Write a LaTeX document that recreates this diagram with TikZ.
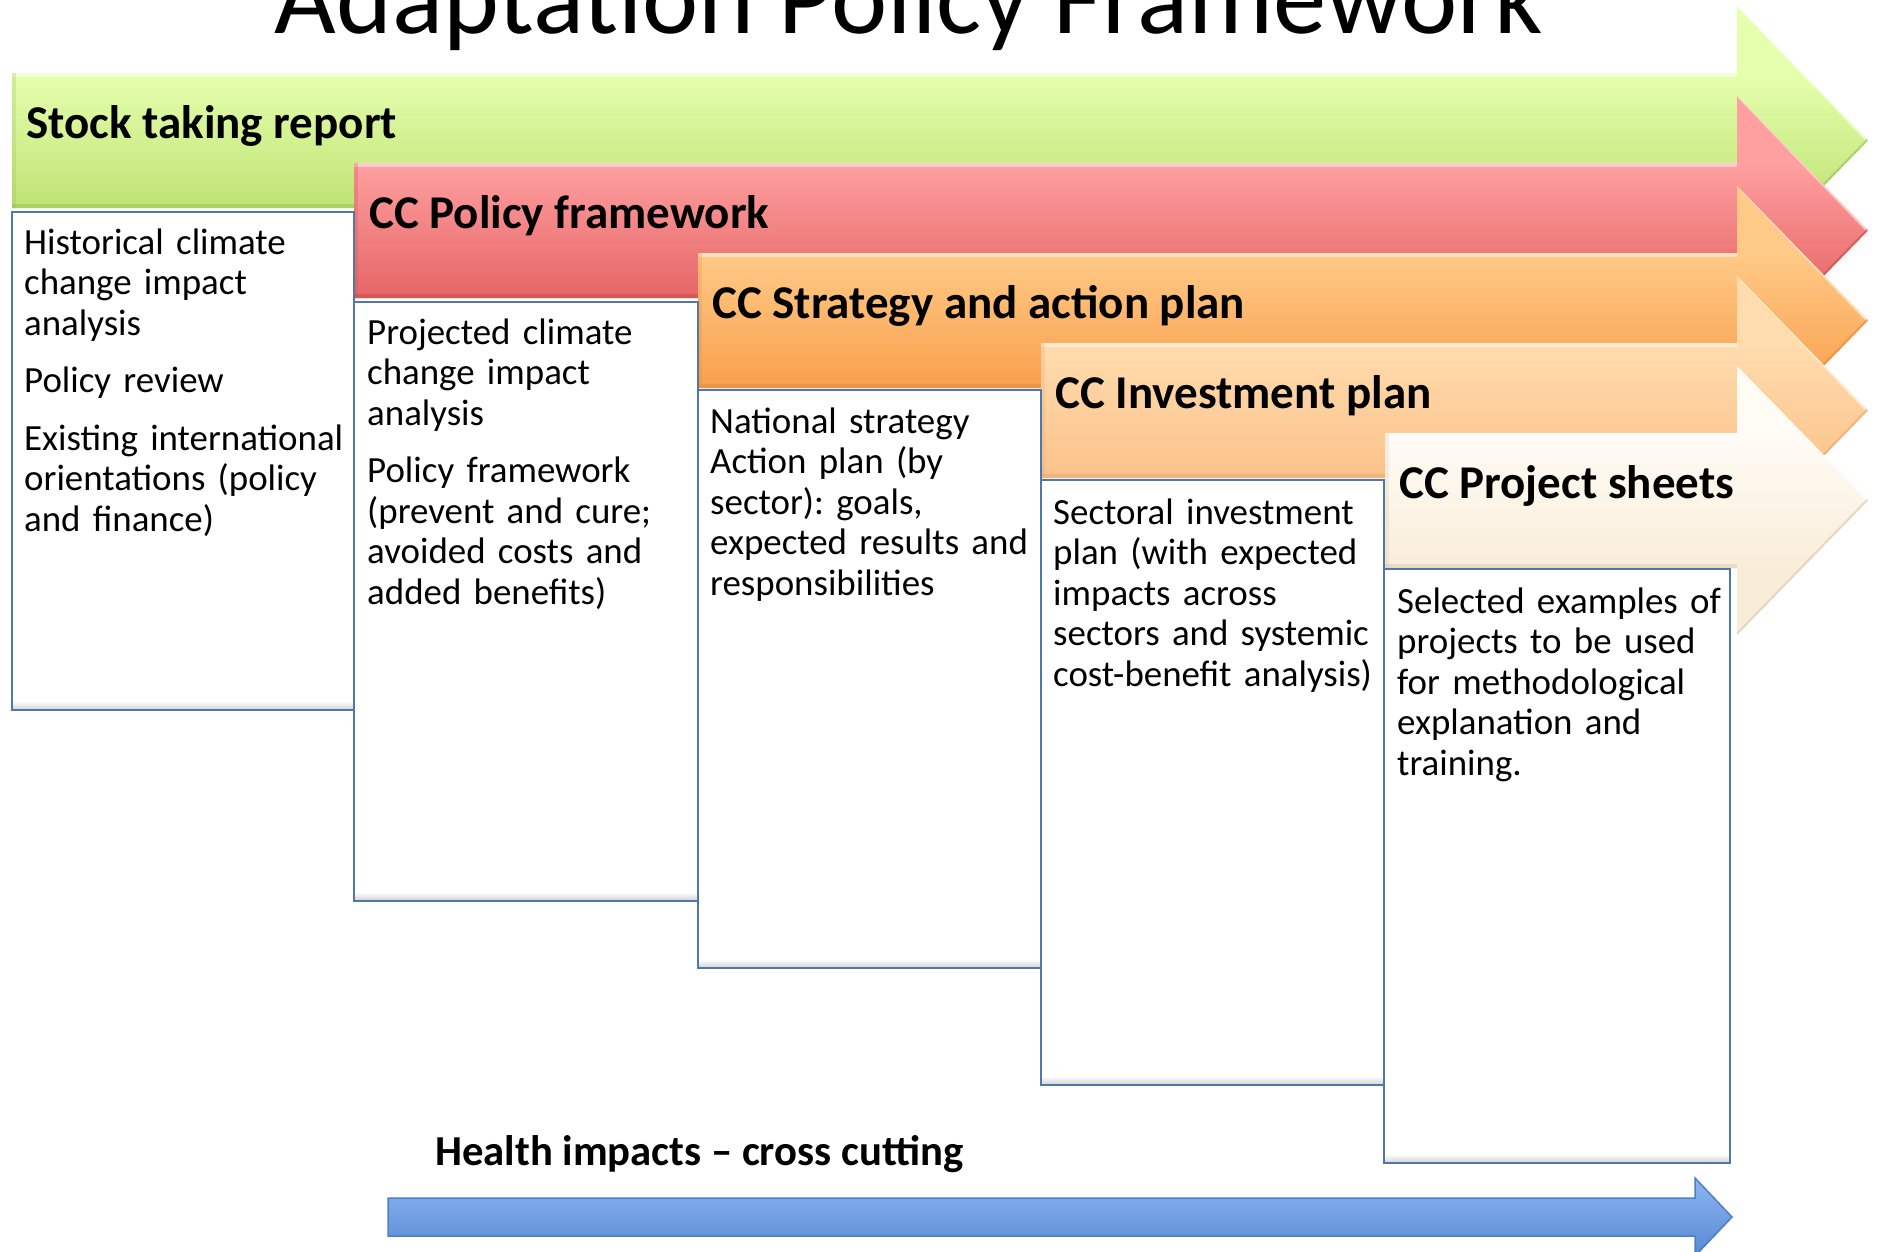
\documentclass[tikz,border=0pt]{standalone}
\usepackage{fontspec}
\setmainfont{Carlito}
\frenchspacing
\definecolor{gTop}{HTML}{E6FFAE}
\definecolor{gMid}{HTML}{D8F98F}
\definecolor{gBot}{HTML}{BFE374}
\definecolor{gEdge}{HTML}{9BBB59}
\definecolor{rTop}{HTML}{FFA0A0}
\definecolor{rMid}{HTML}{FC8B8B}
\definecolor{rBot}{HTML}{E66566}
\definecolor{rEdge}{HTML}{C0504D}
\definecolor{oTop}{HTML}{FFCA88}
\definecolor{oMid}{HTML}{FDB66C}
\definecolor{oBot}{HTML}{F9A04C}
\definecolor{oEdge}{HTML}{E08A3C}
\definecolor{lTop}{HTML}{FFDCAE}
\definecolor{lMid}{HTML}{FECD9A}
\definecolor{lBot}{HTML}{FBC28A}
\definecolor{lEdge}{HTML}{E3A772}
\definecolor{cTop}{HTML}{FFFCF6}
\definecolor{cMid}{HTML}{FEF6E9}
\definecolor{cBot}{HTML}{F9EDD9}
\definecolor{cEdge}{HTML}{D9C7AE}
\definecolor{boxLine}{HTML}{4F77AC}
\definecolor{bTop}{HTML}{8DB5F3}
\definecolor{bBot}{HTML}{5689D3}
\definecolor{bEdge}{HTML}{4F7FC2}
% #1 x0, #2 top y, #3 top colour, #4 middle colour, #5 bottom colour, #6 edge colour
\newcommand\ccbar[6]{%
  \begin{scope}
    \clip (#1,#2) -- (1737,#2) -- (1737,#2-67) -- (1868,#2+67.5) -- (1737,#2+202) -- (1737,#2+135) -- (#1,#2+135) -- cycle;
    \fill[#3] (#1,#2-70) rectangle (1870,#2+1);
    \fill[#5] (#1,#2+134) rectangle (1870,#2+206);
    \shade[top color=#3, middle color=#4, bottom color=#5] (#1,#2) rectangle (1870,#2+135);
    \fill[white, opacity=0.45] (#1,#2) rectangle (1737,#2+4);
    \fill[#6, opacity=0.5] (#1,#2+131) rectangle (1737,#2+135);
    \fill[#6, opacity=0.25] (#1,#2) rectangle (#1+4,#2+135);
    \draw[white, opacity=0.5, line width=4] (1739,#2-67) -- (1868,#2+67.5);
    \draw[#6, opacity=0.6, line width=4] (1868,#2+67.5) -- (1737,#2+202);
  \end{scope}
}
\newcommand\ccbox[4]{% x0 x1 ytop ybottom
  \fill[white] (#1,#3) rectangle (#2,#4);
  \shade[top color=white, bottom color=black!18] (#1,#4-9) rectangle (#2,#4);
  \draw[boxLine, line width=2.4] (#1,#3) rectangle (#2,#4);
}
\tikzset{
  bodytext/.style={anchor=base west, inner sep=0pt, align=left, text width=340pt,
    font=\fontsize{36.9}{40.5}\selectfont},
  headtext/.style={anchor=base west, inner sep=0pt, font=\fontsize{47}{55}\selectfont\bfseries},
}
\begin{document}
\begin{tikzpicture}[x=1pt,y=-1pt]
\useasboundingbox (0,0) rectangle (1878,1251);
\clip (0,0) rectangle (1878,1251);
\fill[white] (0,0) rectangle (1878,1251);

\node[anchor=base, inner sep=0pt, font=\fontsize{106.5}{120}\selectfont] (title) at (909,33) {Adaptation Policy Framework};

\ccbar{12}{73}{gTop}{gMid}{gBot}{gEdge}
\ccbar{354}{163}{rTop}{rMid}{rBot}{rEdge}
\ccbar{698}{253}{oTop}{oMid}{oBot}{oEdge}
\ccbar{1041}{343}{lTop}{lMid}{lBot}{lEdge}
\ccbar{1385}{433}{cTop}{cMid}{cBot}{cEdge}

\node[headtext] (h1) at (26,138) {Stock taking report};
\node[headtext] (h2) at (369,228) {CC Policy framework};
\node[headtext] (h3) at (712,318) {CC Strategy and action plan};
\node[headtext] (h4) at (1055,408) {CC Investment plan};
\node[headtext] (h5) at (1399,498) {CC Project sheets};

\ccbox{12}{354}{212}{710}
\ccbox{354}{698}{302}{901}
\ccbox{698}{1041}{390}{968}
\ccbox{1041}{1384}{480}{1085}
\ccbox{1384}{1730}{569}{1163}

\node[bodytext] (t1) at (24,254) {Historical climate\\change impact\\analysis\\[17pt]Policy review\\[17pt]Existing international\\orientations (policy\\and finance)};
\node[bodytext] (t2) at (367,344) {Projected climate\\change impact\\analysis\\[17pt]Policy framework\\(prevent and cure;\\avoided costs and\\added benefits)};
\node[bodytext] (t3) at (710,433) {National strategy\\Action plan (by\\sector): goals,\\expected results and\\responsibilities};
\node[bodytext] (t4) at (1053,524) {Sectoral investment\\plan (with expected\\impacts across\\sectors and systemic\\cost-benefit analysis)};
\node[bodytext] (t5) at (1397,613) {Selected examples of\\projects to be used\\for methodological\\explanation and\\training.};

\node[anchor=base west, inner sep=0pt, font=\fontsize{42.7}{50}\selectfont\bfseries] (health) at (435,1165) {Health impacts – cross cutting};

\shade[top color=bTop, bottom color=bBot, draw=bEdge, line width=1.5]
  (388,1198) -- (1695,1198) -- (1695,1178) -- (1732,1217) -- (1695,1256) -- (1695,1236) -- (388,1236) -- cycle;
\end{tikzpicture}
\end{document}
